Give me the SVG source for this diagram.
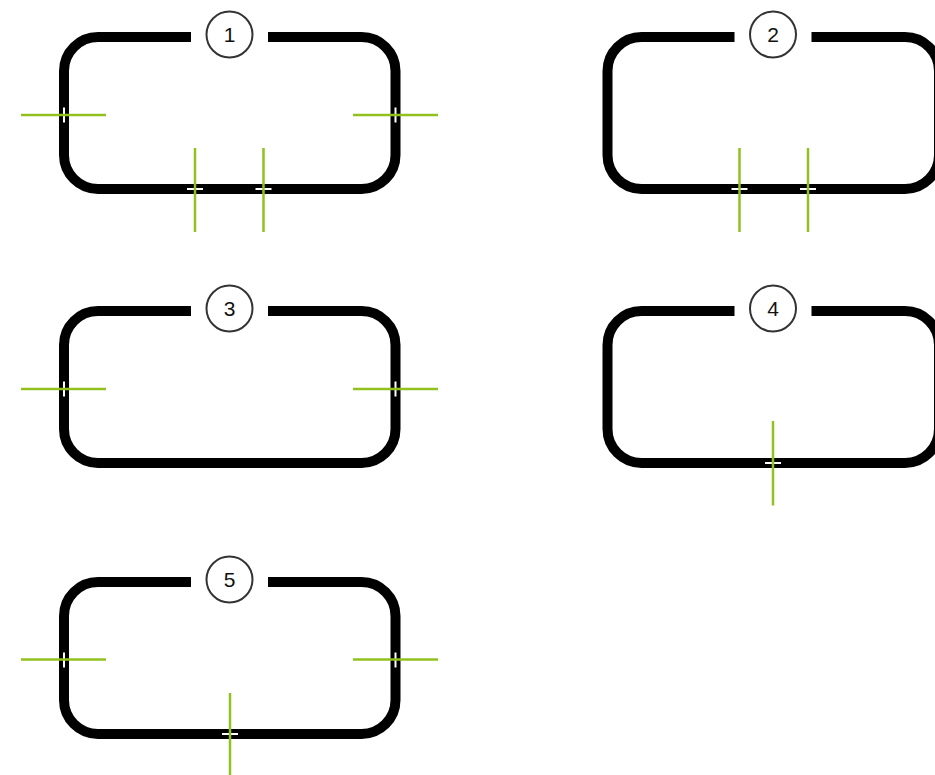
<svg xmlns="http://www.w3.org/2000/svg" xmlns:xlink="http://www.w3.org/1999/xlink" width="935" height="775" viewBox="0 0 935 775">
  <style>
    .frame { fill: none; stroke: #000; stroke-width: 10; stroke-linecap: butt; }
    .badge { fill: #fff; stroke: #333; stroke-width: 2; }
    .num { font-family: "Liberation Sans", Arial, sans-serif; font-size: 21px; fill: #111; text-anchor: middle; }
    .tick { stroke: #fff; stroke-width: 2; fill: none; }
    .wire { stroke: #92c11f; stroke-width: 2.5; fill: none; }
  </style>
  <defs>
    <path id="frame" class="frame" d="M204 0 H297.5 A34 34 0 0 1 331.5 34 V118 A34 34 0 0 1 297.5 152 H34 A34 34 0 0 1 0 118 V34 A34 34 0 0 1 34 0 H127"/>
  </defs>
  <rect width="935" height="775" fill="#fff"/>

  <g id="node1" transform="translate(64,37)">
    <use xlink:href="#frame" href="#frame"/>
    <circle class="badge" cx="165.5" cy="-2.5" r="23"/>
    <text class="num" x="165.5" y="5">1</text>
    <line class="tick" x1="0" y1="70.5" x2="0" y2="85.5"/>
    <line class="tick" x1="331.5" y1="70.5" x2="331.5" y2="85.5"/>
    <line class="tick" x1="123" y1="152" x2="139" y2="152"/>
    <line class="tick" x1="191.5" y1="152" x2="207.5" y2="152"/>
  </g>

  <g id="node2" transform="translate(607.5,37)">
    <use xlink:href="#frame" href="#frame"/>
    <circle class="badge" cx="165.5" cy="-2.5" r="23"/>
    <text class="num" x="165.5" y="5">2</text>
    <line class="tick" x1="124" y1="152" x2="140" y2="152"/>
    <line class="tick" x1="192.5" y1="152" x2="208.5" y2="152"/>
  </g>

  <g id="node3" transform="translate(64,311)">
    <use xlink:href="#frame" href="#frame"/>
    <circle class="badge" cx="165.5" cy="-2.5" r="23"/>
    <text class="num" x="165.5" y="5">3</text>
    <line class="tick" x1="0" y1="70.5" x2="0" y2="85.5"/>
    <line class="tick" x1="331.5" y1="70.5" x2="331.5" y2="85.5"/>
  </g>

  <g id="node4" transform="translate(607.5,311)">
    <use xlink:href="#frame" href="#frame"/>
    <circle class="badge" cx="165.5" cy="-2.5" r="23"/>
    <text class="num" x="165.5" y="5">4</text>
    <line class="tick" x1="157.5" y1="152" x2="173.5" y2="152"/>
  </g>

  <g id="node5" transform="translate(64,582)">
    <use xlink:href="#frame" href="#frame"/>
    <circle class="badge" cx="165.5" cy="-2.5" r="23"/>
    <text class="num" x="165.5" y="5">5</text>
    <line class="tick" x1="0" y1="70.5" x2="0" y2="85.5"/>
    <line class="tick" x1="331.5" y1="70.5" x2="331.5" y2="85.5"/>
    <line class="tick" x1="158" y1="152" x2="174" y2="152"/>
  </g>

  <g id="connectors">
    <line class="wire" x1="21" y1="115" x2="106" y2="115"/>
    <line class="wire" x1="353" y1="115" x2="438" y2="115"/>
    <line class="wire" x1="195" y1="148" x2="195" y2="232"/>
    <line class="wire" x1="263.5" y1="148" x2="263.5" y2="232"/>

    <line class="wire" x1="739.5" y1="148" x2="739.5" y2="232"/>
    <line class="wire" x1="808" y1="148" x2="808" y2="232"/>

    <line class="wire" x1="21" y1="389" x2="106" y2="389"/>
    <line class="wire" x1="353" y1="389" x2="438" y2="389"/>

    <line class="wire" x1="773" y1="421" x2="773" y2="505.5"/>

    <line class="wire" x1="21" y1="659.5" x2="106" y2="659.5"/>
    <line class="wire" x1="353" y1="659.5" x2="438" y2="659.5"/>
    <line class="wire" x1="230" y1="693" x2="230" y2="775"/>
  </g>
</svg>
